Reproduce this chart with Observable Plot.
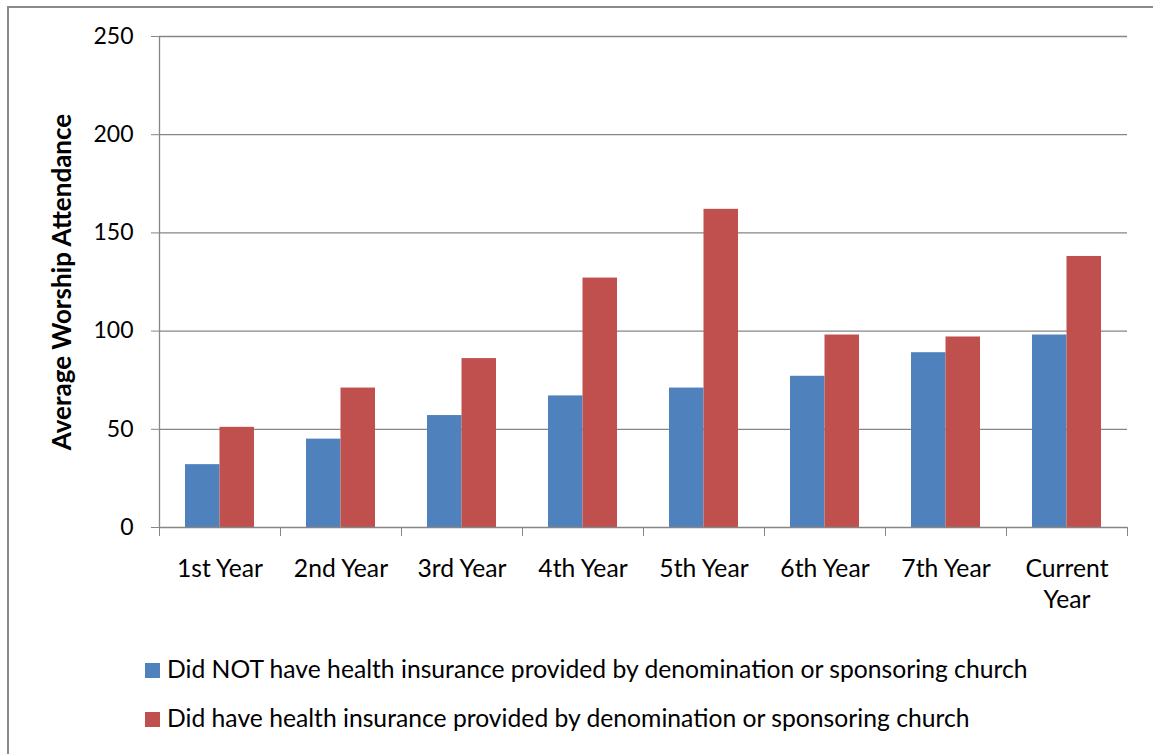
<!DOCTYPE html>
<html>
<head>
<meta charset="utf-8">
<script src="https://cdn.jsdelivr.net/npm/d3@7"></script>
<script src="https://cdn.jsdelivr.net/npm/@observablehq/plot@0.6"></script>
<style>
  html, body { margin: 0; padding: 0; background: white; }
  #wrap { position: relative; width: 1153px; height: 754px; overflow: hidden; font-family: Lato, "Open Sans", sans-serif; color: black; }
  #border { position: absolute; left: 7px; top: 6px; width: 1160px; height: 760px; border-top: 2px solid #8a8a8a; border-left: 2px solid #8a8a8a; box-sizing: border-box; pointer-events: none; z-index: 5; }
  #chart { position: absolute; left: 0; top: 0; }
  .sw { position: absolute; left: 145px; width: 15px; height: 15px; }
  .lt { position: absolute; left: 167px; font-size: 24.7px; line-height: 24px; white-space: nowrap; }
</style>
</head>
<body>
<div id="wrap">
  <div id="chart"></div>
  <div id="legend"></div>
  <div id="border"></div>
</div>
<script>
const years = ["1st Year", "2nd Year", "3rd Year", "4th Year", "5th Year", "6th Year", "7th Year", "Current Year"];
const noInsurance = [32, 45, 57, 67, 71, 77, 89, 98];
const withInsurance = [51, 71, 86, 127, 162, 98, 97, 138];
const yTicks = [0, 50, 100, 150, 200, 250];
const seriesLabels = [
  "Did NOT have health insurance provided by denomination or sponsoring church",
  "Did have health insurance provided by denomination or sponsoring church"
];
const seriesColors = ["#4F81BD", "#C0504D"];
const yTitle = "Average Worship Attendance";

const gray = "#868686";
const rowsNo = years.map((y, i) => ({year: y, value: noInsurance[i]}));
const rowsWith = years.map((y, i) => ({year: y, value: withInsurance[i]}));

const chart = Plot.plot({
  width: 1153,
  height: 620,
  marginLeft: 159,
  marginRight: 26,
  marginTop: 36,
  marginBottom: 93,
  style: {fontFamily: "Lato, 'Open Sans', sans-serif", fontSize: "23px", color: "black", background: "transparent"},
  x: {domain: years, paddingInner: 0.43, paddingOuter: 0.215, axis: null, label: null},
  y: {domain: [0, 250], axis: null, label: null},
  marks: [
    Plot.ruleY(yTicks.slice(1), {stroke: gray, strokeWidth: 1.3}),
    Plot.barY(rowsNo, {x: "year", y: "value", fill: seriesColors[0], insetRight: 34.5}),
    Plot.barY(rowsWith, {x: "year", y: "value", fill: seriesColors[1], insetLeft: 34.5}),
    Plot.ruleY([0], {stroke: gray, strokeWidth: 1.3}),
    Plot.ruleX([years[0]], {y1: 0, y2: 250, dx: -60.5, stroke: gray, strokeWidth: 1.3}),
    Plot.axisY({ticks: yTicks, tickSize: 8, tickPadding: 18, stroke: gray, fontSize: 23, fill: "black", label: null}),
    Plot.axisX({tickSize: 9, tickFormat: () => "", dx: -60.5, stroke: gray, label: null}),
    Plot.axisX({ticks: [years[years.length - 1]], tickSize: 9, tickFormat: () => "", dx: 60.5, stroke: gray, label: null}),
    Plot.axisX({tickSize: 0, tickPadding: 28, fontSize: 24.7, fill: "black", lineHeight: 1.25, label: null,
      tickFormat: d => d === "Current Year" ? "Current\nYear" : d}),
    Plot.text([yTitle], {frameAnchor: "left", textAnchor: "middle", rotate: -90, dx: -97, fontWeight: "bold", fontSize: 26, fill: "black"})
  ]
});
document.getElementById("chart").appendChild(chart);

const legend = document.getElementById("legend");
const rowTops = [663, 712];
seriesLabels.forEach((label, i) => {
  const sw = document.createElement("div");
  sw.className = "sw";
  sw.style.top = rowTops[i] + "px";
  sw.style.background = seriesColors[i];
  legend.appendChild(sw);
  const t = document.createElement("div");
  t.className = "lt";
  t.style.top = (rowTops[i] - 6) + "px";
  t.textContent = label;
  legend.appendChild(t);
});
</script>
</body>
</html>
